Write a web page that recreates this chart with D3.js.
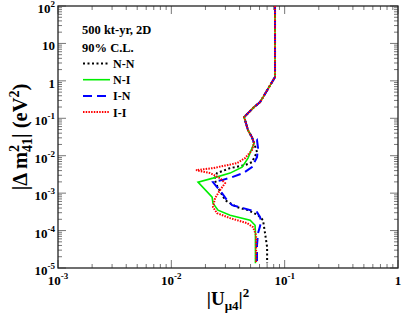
<!DOCTYPE html>
<html><head><meta charset="utf-8">
<script src="https://cdn.jsdelivr.net/npm/d3@7"></script>
<style>body{margin:0;background:#fff}svg{display:block}text{font-family:"Liberation Serif","Times New Roman",serif;font-weight:bold}</style>
</head><body><svg id="c" width="407" height="315"></svg>
<script>
// data: [|U_mu4|^2, |Delta m^2_41| (eV^2)]
const common = [[0.0822,100],[0.0822,1.26],[0.0607,0.271],[0.0537,0.199],[0.0439,0.108],[0.0475,0.048],[0.0515,0.031],[0.0537,0.0217]];
const nn = [[0.0570,0.0125],[0.0515,0.00674],[0.0447,0.00561],[0.0330,0.00466],[0.0253,0.00343],[0.0240,0.0024],[0.0255,0.0015],[0.0298,0.00065],[0.0380,0.000423],[0.0475,0.000351],[0.0582,0.000258],[0.0644,0.000190],[0.0671,0.000085],[0.0700,0.000036],[0.0700,0.0000134]];
const ni = [[0.0475,0.00863],[0.0421,0.00496],[0.0330,0.00343],[0.0233,0.00252],[0.0172,0.00197],[0.0229,0.000781],[0.0233,0.000541],[0.0258,0.000351],[0.0330,0.000258],[0.0496,0.000190],[0.0548,0.000139],[0.0552,0.0000906],[0.0552,0.0000134]];
const inn = [[0.0570,0.0261],[0.0582,0.0160],[0.0570,0.00918],[0.0515,0.00496],[0.0430,0.00343],[0.0344,0.00268],[0.0280,0.00223],[0.0233,0.00197],[0.0253,0.00145],[0.0280,0.001],[0.0310,0.00065],[0.0344,0.000478],[0.0430,0.000397],[0.0570,0.000311],[0.0607,0.000228],[0.0620,0.000168],[0.0582,0.000085],[0.0570,0.0000407],[0.0570,0.0000134]];
const ii = [[0.0515,0.0141],[0.0447,0.00863],[0.0380,0.00634],[0.0233,0.00466],[0.0165,0.00412],[0.0220,0.00343],[0.0269,0.00252],[0.0298,0.00185],[0.0269,0.00120],[0.0243,0.000735],[0.0233,0.000423],[0.0253,0.000292],[0.0330,0.000215],[0.0466,0.000158],[0.0526,0.000123],[0.0560,0.000075],[0.0560,0.0000134]];
const seriesNames = ["N-N","N-I","I-N","I-I"];
const seriesData = [nn, ni, inn, ii];
const seriesColors = ["#000000","#00ee00","#0000ff","#ff0000"];
const seriesDash = ["2,2.5","","9,5","1.5,1.2"];
const seriesWidth = [2,1.6,2,2];
const xTicks = [1e-3,1e-2,1e-1,1];
const xTickLabels = [["10","-3"],["10","-2"],["10","-1"],["1",""]];
const yTicks = [1e2,1e1,1,1e-1,1e-2,1e-3,1e-4,1e-5];
const yTickLabels = [["10","2"],["10",""],["1",""],["10","-1"],["10","-2"],["10","-3"],["10","-4"],["10","-5"]];
const legendTitle = ["500 kt-yr, 2D","90% C.L."];

const svg = d3.select("#c");
const L=58,R=398,T=6,B=268;
const x = d3.scaleLog().domain([1e-3,1]).range([L,R]);
const y = d3.scaleLog().domain([1e-5,1e2]).range([B,T]);

// minor ticks
const minorX=[], minorY=[];
for(let e=-3;e<0;e++) for(let m=2;m<10;m++) minorX.push(m*Math.pow(10,e));
for(let e=-5;e<2;e++) for(let m=2;m<10;m++) minorY.push(m*Math.pow(10,e));
const tg = svg.append("g").attr("stroke","#777").attr("stroke-width",1);
minorX.forEach(v=>{tg.append("line").attr("x1",x(v)).attr("x2",x(v)).attr("y1",B).attr("y2",B-4);
  tg.append("line").attr("x1",x(v)).attr("x2",x(v)).attr("y1",T).attr("y2",T+4);});
xTicks.forEach(v=>{tg.append("line").attr("x1",x(v)).attr("x2",x(v)).attr("y1",B).attr("y2",B-8);
  tg.append("line").attr("x1",x(v)).attr("x2",x(v)).attr("y1",T).attr("y2",T+8);});
minorY.forEach(v=>{tg.append("line").attr("y1",y(v)).attr("y2",y(v)).attr("x1",L).attr("x2",L+4);
  tg.append("line").attr("y1",y(v)).attr("y2",y(v)).attr("x1",R).attr("x2",R-4);});
yTicks.forEach(v=>{tg.append("line").attr("y1",y(v)).attr("y2",y(v)).attr("x1",L).attr("x2",L+8);
  tg.append("line").attr("y1",y(v)).attr("y2",y(v)).attr("x1",R).attr("x2",R-8);});

// frame
svg.append("rect").attr("x",L).attr("y",T).attr("width",R-L).attr("height",B-T)
  .attr("fill","none").attr("stroke","#222").attr("stroke-width",1.3);

// tick labels
xTicks.forEach((v,i)=>{
  const t=svg.append("text").attr("x",x(v)).attr("y",B+17).attr("text-anchor","middle").attr("font-size",13);
  t.append("tspan").text(xTickLabels[i][0]);
  if(xTickLabels[i][1]) t.append("tspan").attr("dy",-6).attr("font-size",9).text(xTickLabels[i][1]);
});
yTicks.forEach((v,i)=>{
  const t=svg.append("text").attr("x",L-3).attr("y",y(v)+7).attr("text-anchor","end").attr("font-size",13);
  t.append("tspan").text(yTickLabels[i][0]);
  if(yTickLabels[i][1]) t.append("tspan").attr("dy",-6).attr("font-size",9).text(yTickLabels[i][1]);
});

// axis titles
const xt = svg.append("text").attr("x",(L+R)/2).attr("y",305).attr("text-anchor","middle").attr("font-size",19);
xt.append("tspan").text("|U");
xt.append("tspan").attr("dy",5).attr("font-size",13).text("μ4");
xt.append("tspan").attr("dy",-5).text("|");
xt.append("tspan").attr("dy",-8).attr("font-size",13).text("2");

const yt = svg.append("text").attr("transform",`translate(27,${(T+B)/2}) rotate(-90)`).attr("text-anchor","middle").attr("font-size",20.5);
yt.append("tspan").text("|Δ m");
yt.append("tspan").attr("dy",-8).attr("font-size",14).text("2");
yt.append("tspan").attr("dy",13).attr("dx",-7).attr("font-size",14).text("41");
yt.append("tspan").attr("dy",-5).text("| (eV");
yt.append("tspan").attr("dy",-8).attr("font-size",14).text("2");
yt.append("tspan").attr("dy",8).text(")");

// curves
const line = d3.line().x(d=>x(d[0])).y(d=>y(d[1]));
const pg = svg.append("g");
seriesData.forEach((s,i)=>{
  pg.append("path").datum(common.concat(s)).attr("d",line).attr("fill","none")
    .attr("stroke",seriesColors[i]).attr("stroke-width",seriesWidth[i])
    .attr("stroke-dasharray",seriesDash[i]||null);
});

// legend
svg.append("text").attr("x",82).attr("y",34).attr("font-size",12.5).text(legendTitle[0]);
svg.append("text").attr("x",82).attr("y",52).attr("font-size",12.5).text(legendTitle[1]);
seriesNames.forEach((n,i)=>{
  const yy = 63.5 + i*16.2;
  svg.append("line").attr("x1",83).attr("x2",110).attr("y1",yy).attr("y2",yy)
    .attr("stroke",seriesColors[i]).attr("stroke-width",seriesWidth[i]).attr("stroke-dasharray",seriesDash[i]||null);
  svg.append("text").attr("x",113).attr("y",yy+4.5).attr("font-size",12).text(n);
});
</script></body></html>
